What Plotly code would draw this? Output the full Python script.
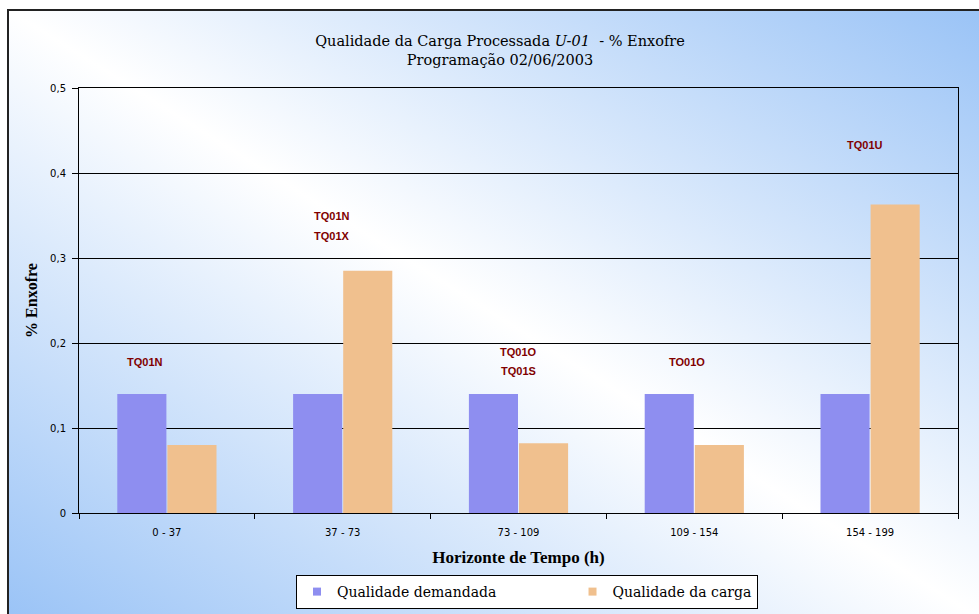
import base64
import plotly.graph_objects as go

# ---- data ----
categorias = ["0 - 37", "37 - 73", "73 - 109", "109 - 154", "154 - 199"]
qualidade_demandada = [0.14, 0.14, 0.14, 0.14, 0.14]
qualidade_carga = [0.08, 0.285, 0.082, 0.08, 0.363]

# tank labels written above each time window (one entry per text line)
rotulo_categoria = ["0 - 37", "37 - 73", "37 - 73", "73 - 109", "73 - 109", "109 - 154", "154 - 199"]
rotulo_texto = ["TQ01N", "TQ01N", "TQ01X", "TQ01O", "TQ01S", "TO01O", "TQ01U"]
rotulo_altura = [0.178, 0.349, 0.326, 0.189, 0.167, 0.178, 0.433]
rotulo_deslocamento = [-22, -11, -11, 0, 0, -7, -5]

y_ticks = [0, 0.1, 0.2, 0.3, 0.4, 0.5]
y_tick_labels = ["0", "0,1", "0,2", "0,3", "0,4", "0,5"]

serie_nomes = ["Qualidade demandada", "Qualidade da carga"]
serie_cores = ["#8e8ef0", "#f0c08e"]

# ---- layout geometry (pixels) ----
W, H = 979, 614
ML, MR, MT, MB = 79, 21, 88, 101
PW, PH = W - ML - MR, H - MT - MB

# chart frame background: diagonal blue/white/blue gradient with a dark border
FX0, FY0, FW, FH = 7, 9, 990, 620
svg = f"""<svg xmlns='http://www.w3.org/2000/svg' width='{FW}' height='{FH}' viewBox='0 0 {FW} {FH}' preserveAspectRatio='none'>
<defs><linearGradient id='g' x1='0' y1='1' x2='1' y2='0'>
<stop offset='0' stop-color='#98c2f6'/>
<stop offset='0.5' stop-color='#ffffff'/>
<stop offset='1' stop-color='#98c2f6'/>
</linearGradient></defs>
<rect x='0' y='0' width='{FW}' height='{FH}' fill='url(#g)'/>
<rect x='1' y='1' width='{FW + 10}' height='{FH + 10}' fill='none' stroke='#222222' stroke-width='2'/>
</svg>"""
svg_uri = "data:image/svg+xml;base64," + base64.b64encode(svg.encode()).decode()

serif = "Liberation Serif, Times New Roman, serif"
serif_wide = "DejaVu Serif, Georgia, serif"
sans = "DejaVu Sans, Tahoma, sans-serif"

fig = go.Figure()
for nome, valores, cor in zip(serie_nomes, [qualidade_demandada, qualidade_carga], serie_cores):
    fig.add_trace(go.Bar(
        name=nome, x=categorias, y=valores, showlegend=False,
        marker=dict(color=cor, line=dict(width=0)),
    ))

# small square legend keys; the first name is padded to spread the two entries
legenda_texto = [serie_nomes[0] + "\u00a0" * 16, serie_nomes[1]]
for nome, cor in zip(legenda_texto, serie_cores):
    fig.add_trace(go.Scatter(
        name=nome, x=[None], y=[None], mode="markers",
        marker=dict(symbol="square", size=8, color=cor, line=dict(width=0)),
    ))

for cat, txt, alt, dx in zip(rotulo_categoria, rotulo_texto, rotulo_altura, rotulo_deslocamento):
    fig.add_annotation(
        x=cat, y=alt, text=f"<b>{txt}</b>", showarrow=False, xshift=dx,
        font=dict(family="Liberation Sans, Arial, sans-serif", size=11, color="#800000"),
    )

fig.update_layout(
    width=W, height=H,
    margin=dict(l=ML, r=MR, t=MT, b=MB, pad=0, autoexpand=False),
    paper_bgcolor="white", plot_bgcolor="white",
    separators=",.",
    barmode="group", bargap=0.43, bargroupgap=0.02,
    title=dict(
        text="Qualidade da Carga Processada <i>U-01</i>  - % Enxofre<br>Programação 02/06/2003",
        x=500 / W, xref="container", xanchor="center",
        y=1 - 46 / H, yref="container", yanchor="top",
        font=dict(family=serif_wide, size=14.5, color="#000000"),
    ),
    xaxis=dict(
        automargin=False,
        showgrid=False, showline=True, linecolor="#000000", linewidth=1, mirror=True,
        ticks="outside", ticklen=5, tickcolor="#000000", tickson="boundaries",
        ticklabelstandoff=10,
        tickfont=dict(family=sans, size=10, color="#000000"),
        title=dict(text="<b>Horizonte de Tempo (h)</b>", font=dict(family=serif, size=17, color="#000000"), standoff=14),
    ),
    yaxis=dict(
        automargin=False,
        range=[0, 0.5], tickvals=y_ticks, ticktext=y_tick_labels,
        showgrid=True, gridcolor="#000000", gridwidth=1,
        showline=True, linecolor="#000000", linewidth=1, mirror=True,
        ticks="outside", ticklen=6, tickcolor="#000000", ticklabelstandoff=4,
        tickfont=dict(family=sans, size=10, color="#000000"),
        zeroline=False,
        title=dict(text="<b>% Enxofre</b>", font=dict(family=serif, size=16, color="#000000"), standoff=8),
    ),
    legend=dict(
        orientation="h", x=(527 - ML) / PW, xanchor="center",
        yref="container", y=1 - 575 / H, yanchor="top",
        bgcolor="white", bordercolor="#000000", borderwidth=1,
        font=dict(family=serif_wide, size=14, color="#000000"),
        itemwidth=30,
    ),
    showlegend=True,
    images=[dict(
        source=svg_uri, xref="paper", yref="paper",
        x=(FX0 - ML) / PW, y=(MT + PH - FY0) / PH,
        sizex=FW / PW, sizey=FH / PH,
        xanchor="left", yanchor="top", sizing="stretch", layer="below",
    )],
)

fig.write_html("out.html")
